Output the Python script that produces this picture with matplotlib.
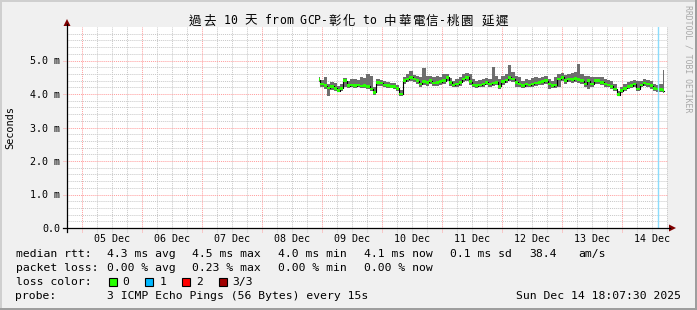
import matplotlib
matplotlib.use("Agg")
import matplotlib.pyplot as plt
import matplotlib.dates as mdates
from matplotlib.lines import Line2D
from matplotlib.patches import Polygon, Rectangle
import pandas as pd
import numpy as np
import unicodedata

W, H = 697, 310

# ---------------- data ----------------
title = "過去 10 天 from GCP-彰化 to 中華電信-桃園 延遲"
view_start = "2025-12-04 18:07:30"
view_end = "2025-12-14 18:07:30"
sample_start = "2025-12-08 22:50"
sample_step = "79min"

median_ms = [
    4.43, 4.30, 4.25, 4.18, 4.23, 4.17, 4.10, 4.17, 4.40, 4.25, 4.27, 4.25,
    4.27, 4.24, 4.26, 4.23, 4.15, 4.05, 4.35, 4.33, 4.27, 4.25, 4.23, 4.22,
    4.17, 4.00, 4.40, 4.45, 4.50, 4.45, 4.40, 4.30, 4.37, 4.35,
    4.40, 4.33, 4.35, 4.37, 4.40, 4.50, 4.35, 4.27, 4.30, 4.35, 4.45, 4.50,
    4.37, 4.27, 4.25, 4.27, 4.30, 4.35, 4.30, 4.33, 4.35, 4.23, 4.37, 4.42,
    4.50, 4.45, 4.35, 4.30, 4.25, 4.30, 4.27, 4.30, 4.33, 4.35, 4.37, 4.40,
    4.30, 4.25, 4.27, 4.45, 4.50, 4.40, 4.45, 4.43, 4.47, 4.43, 4.40, 4.30,
    4.40, 4.30, 4.40, 4.40, 4.35, 4.30, 4.27, 4.23, 4.15, 3.98, 4.10, 4.17,
    4.23, 4.25, 4.30, 4.15, 4.27, 4.33, 4.30, 4.25, 4.17, 4.15, 4.13, 4.10,
]
smoke_top_ms = [
    4.50, 4.42, 4.50, 4.30, 4.35, 4.32, 4.25, 4.30, 4.48, 4.38, 4.45, 4.45,
    4.42, 4.50, 4.48, 4.60, 4.55, 4.20, 4.45, 4.42, 4.38, 4.35, 4.33, 4.32,
    4.28, 4.12, 4.50, 4.60, 4.68, 4.58, 4.55, 4.50, 4.77, 4.55,
    4.55, 4.50, 4.55, 4.50, 4.60, 4.60, 4.48, 4.40, 4.45, 4.50, 4.60, 4.62,
    4.60, 4.45, 4.40, 4.42, 4.45, 4.48, 4.45, 4.81, 4.55, 4.45, 4.55, 4.60,
    4.86, 4.65, 4.55, 4.50, 4.40, 4.45, 4.42, 4.48, 4.50, 4.48, 4.52, 4.55,
    4.45, 4.40, 4.50, 4.60, 4.62, 4.58, 4.60, 4.62, 4.65, 4.90, 4.60, 4.55,
    4.55, 4.50, 4.52, 4.50, 4.50, 4.45, 4.42, 4.38, 4.30, 4.10, 4.22, 4.30,
    4.35, 4.38, 4.42, 4.40, 4.40, 4.45, 4.42, 4.38, 4.30, 4.28, 4.30, 4.71,
]
smoke_bot_ms = [
    4.35, 4.22, 4.15, 3.95, 4.12, 4.08, 4.05, 4.10, 4.20, 4.18, 4.20, 4.18,
    4.20, 4.17, 4.18, 4.15, 4.08, 3.97, 4.25, 4.25, 4.20, 4.18, 4.17, 4.15,
    4.10, 3.95, 4.30, 4.35, 4.40, 4.35, 4.30, 4.22, 4.28, 4.25,
    4.30, 4.25, 4.25, 4.28, 4.30, 4.38, 4.25, 4.20, 4.22, 4.25, 4.35, 4.40,
    4.28, 4.20, 4.18, 4.20, 4.22, 4.27, 4.22, 4.25, 4.27, 4.15, 4.28, 4.33,
    4.40, 4.35, 4.20, 4.20, 4.18, 4.22, 4.20, 4.22, 4.25, 4.27, 4.28, 4.30,
    4.15, 4.18, 4.18, 4.20, 4.38, 4.30, 4.35, 4.33, 4.35, 4.33, 4.30, 4.20,
    4.15, 4.20, 4.30, 4.30, 4.27, 4.22, 4.20, 4.15, 4.08, 3.93, 4.02, 4.10,
    4.15, 4.18, 4.22, 4.08, 4.20, 4.25, 4.20, 4.15, 4.08, 4.07, 4.05, 4.03,
]
loss_event_time = "2025-12-14 14:30"

day_labels = ["05 Dec", "06 Dec", "07 Dec", "08 Dec", "09 Dec",
              "10 Dec", "11 Dec", "12 Dec", "13 Dec", "14 Dec"]
y_ticks = [0, 1, 2, 3, 4, 5]
y_tick_labels = ["0.0", "1.0 m", "2.0 m", "3.0 m", "4.0 m", "5.0 m"]
y_label = "Seconds"
side_text = "RRDTOOL / TOBI OETIKER"

rtt_label = "median rtt:"
rtt_values = ["4.3 ms avg", "4.5 ms max", "4.0 ms min", "4.1 ms now", "0.1 ms sd", "38.4", "am/s"]
loss_label = "packet loss:"
loss_values = ["0.00 % avg", "0.23 % max", "0.00 % min", "0.00 % now"]
color_label = "loss color:"
loss_color_names = ["0", "1", "2", "3/3"]
loss_colors = ["#26ff00", "#00b8ff", "#ff0000", "#a00000"]
probe_label = "probe:"
probe_text = "3 ICMP Echo Pings (56 Bytes) every 15s"
stamp_text = "Sun Dec 14 18:07:30 2025"

# ---------------- layout helpers ----------------
MONO = ["DejaVu Sans Mono", "Noto Sans CJK TC"]
plt.rcParams["font.family"] = MONO


def fx(x):
    return x / W


def fy(y):
    return 1 - y / H


fig = plt.figure(figsize=(W / 100, H / 100), dpi=100)
fig.patch.set_facecolor("#f0f0f0")

# 3D-like frame
fig.add_artist(Rectangle((0, fy(2)), 1, 2 / H, transform=fig.transFigure, color="#cfcfcf", lw=0))
fig.add_artist(Rectangle((0, 0), 2 / W, 1, transform=fig.transFigure, color="#cfcfcf", lw=0))
fig.add_artist(Rectangle((0, 0), 1, 2 / H, transform=fig.transFigure, color="#9e9e9e", lw=0))
fig.add_artist(Rectangle((fx(W - 2), 0), 2 / W, 1, transform=fig.transFigure, color="#9e9e9e", lw=0))

L, R, T, B = 67, 667, 27, 228
ax = fig.add_axes([fx(L), fy(B), (R - L) / W, (B - T) / H])
ax.set_facecolor("white")
for s in ax.spines.values():
    s.set_visible(False)

x0 = mdates.date2num(pd.Timestamp(view_start))
x1 = mdates.date2num(pd.Timestamp(view_end))
ax.set_xlim(x0, x1)
ax.set_ylim(0, 6.0)

DOT = (0, (1, 1))
# minor grid
for v in np.arange(0.2, 6.0, 0.2):
    if abs(v - round(v)) > 1e-6:
        ax.axhline(v, color="#c8c8c8", lw=0.7, ls=DOT, zorder=1)
hours = pd.date_range("2025-12-04 18:00", view_end, freq="6h")
for h in hours:
    xv = mdates.date2num(h)
    if xv <= x0 or h.hour == 0:
        continue
    ax.axvline(xv, color="#c8c8c8", lw=0.7, ls=DOT, zorder=1, ymin=-4 / 201, clip_on=False)
# major grid
for v in y_ticks[1:]:
    ax.axhline(v, color="#ff9c9c", lw=0.7, ls=DOT, zorder=2, xmin=-4 / 600, clip_on=False)
for d in pd.date_range("2025-12-05", "2025-12-14", freq="D"):
    ax.axvline(mdates.date2num(d), color="#ff9c9c", lw=0.7, ls=DOT, zorder=2,
               ymin=-4 / 201, clip_on=False)

# data
times = pd.date_range(sample_start, periods=len(median_ms), freq=sample_step)
tn = mdates.date2num(times)
med = np.array(median_ms)
ax.fill_between(tn, smoke_bot_ms, smoke_top_ms, step="mid", color="#6e6e6e", lw=0, zorder=3)
ax.step(tn, med, where="mid", color="#000000", lw=0.8, zorder=4)
ax.fill_between(tn, med - 0.04, med + 0.04, step="mid", color=loss_colors[0], lw=0, zorder=5)
ax.axvline(mdates.date2num(pd.Timestamp(loss_event_time)), color="#8cdcfc", lw=1.0, zorder=6)

# ticks
noons = pd.date_range("2025-12-05 12:00", periods=len(day_labels), freq="D")
ax.set_xticks(mdates.date2num(noons))
ax.set_xticklabels(day_labels)
ax.set_yticks(y_ticks)
ax.set_yticklabels(y_tick_labels)
ax.tick_params(axis="x", length=0, pad=4.3, labelsize=7.2)
ax.tick_params(axis="y", length=0, pad=5.0, labelsize=7.2)

# axes lines + arrows
fig.add_artist(Line2D([fx(63), fx(670)], [fy(B), fy(B)], transform=fig.transFigure, color="black", lw=0.9))
fig.add_artist(Line2D([fx(L), fx(L)], [fy(B + 4), fy(24)], transform=fig.transFigure, color="black", lw=0.9))
fig.add_artist(Polygon([[fx(L - 3.5), fy(26)], [fx(L + 3.5), fy(26)], [fx(L), fy(19)]],
                       closed=True, transform=fig.transFigure, color="#800000", lw=0))
fig.add_artist(Polygon([[fx(669), fy(B - 3.5)], [fx(669), fy(B + 3.5)], [fx(676), fy(B)]],
                       closed=True, transform=fig.transFigure, color="#800000", lw=0))

# title laid out on a monospace cell grid (wide chars take two cells)
CELL = 6.96
widths = [2 if unicodedata.east_asian_width(c) in ("W", "F") else 1 for c in title]
total = sum(widths) * CELL
cx = 348.5 - total / 2
for c, wdt in zip(title, widths):
    if c != " ":
        if wdt == 2:
            fig.text(fx(cx + wdt * CELL / 2), fy(21), c, ha="center", va="center",
                     fontsize=9.0, family=["Noto Sans CJK TC", "DejaVu Sans"])
        else:
            fig.text(fx(cx + CELL / 2), fy(21), c, ha="center", va="center",
                     fontsize=8.3, family=MONO)
    cx += wdt * CELL

fig.text(fx(10), fy(128), y_label, ha="center", va="center", rotation=90, fontsize=7.4)
fig.text(fx(688), fy(59), side_text, ha="center", va="center", rotation=-90,
         fontsize=5.9, color="#a8a8a8")

FS = 8.2
rows = [254, 268, 282, 296]
col_x = [107, 192, 278.5, 364.5, 450.5, 529.5, 578.5]
fig.text(fx(15.5), fy(rows[0]), rtt_label, va="center", ha="left", fontsize=FS)
for xx, s in zip(col_x, rtt_values):
    fig.text(fx(xx), fy(rows[0]), s, va="center", ha="left", fontsize=FS)
fig.text(fx(15.5), fy(rows[1]), loss_label, va="center", ha="left", fontsize=FS)
for xx, s in zip(col_x, loss_values):
    fig.text(fx(xx), fy(rows[1]), s, va="center", ha="left", fontsize=FS)
fig.text(fx(15.5), fy(rows[2]), color_label, va="center", ha="left", fontsize=FS)
box_x = [108.5, 145.2, 181.8, 218.5]
lab_x = [122.5, 159.2, 195.8, 232.5]
for bx, lx, name, c in zip(box_x, lab_x, loss_color_names, loss_colors):
    fig.add_artist(Rectangle((fx(bx), fy(rows[2] + 4)), 8 / W, 8 / H, transform=fig.transFigure,
                             facecolor=c, edgecolor="black", lw=0.8))
    fig.text(fx(lx), fy(rows[2]), name, va="center", ha="left", fontsize=FS)
fig.text(fx(15.5), fy(rows[3]), probe_label, va="center", ha="left", fontsize=FS)
fig.text(fx(107), fy(rows[3]), probe_text, va="center", ha="left", fontsize=FS)
fig.text(fx(681), fy(rows[3]), stamp_text, va="center", ha="right", fontsize=FS)

fig.savefig("out.png", dpi=100, facecolor=fig.get_facecolor())
